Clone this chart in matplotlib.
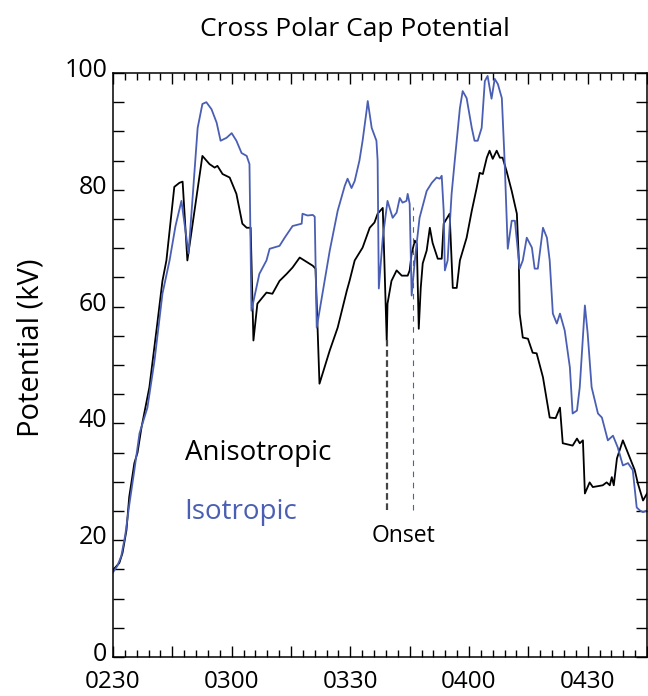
import matplotlib
matplotlib.use("Agg")
import matplotlib.pyplot as plt
import matplotlib.ticker as ticker
import matplotlib.transforms as mtransforms

plt.rcParams['font.family'] = ['Open Sans', 'DejaVu Sans']

# time in minutes after 02:30 UT, potential in kV
aniso_t = [0, 1.6, 2.4, 3.4, 4.1, 5.4, 6.2, 7.2, 9.2, 11.2, 12.5, 13.5, 15.5, 16.8, 17.6,
           18.8, 22.6, 24.4, 25.7, 26.4, 27.7, 29.5, 31.2, 32.7, 33.8, 34.8, 35.5, 36.5,
           38.8, 40.3, 42.1, 43.9, 45.4, 47.2, 50.5, 51.2, 52.2, 54.8, 56.8, 59.1, 59.8,
           61.1, 63.1, 64.9, 66.1, 66.9, 68.2, 68.9, 69.2, 69.4, 70.4, 71.7, 73.0, 74.5,
           75.0, 75.5, 76.3, 76.8, 77.3, 77.8, 78.3, 79.3, 80.1, 80.8, 82.1, 83.1, 83.6,
           85.1, 85.9, 86.9, 87.7, 89.4, 90.7, 91.9, 92.7, 93.5, 94.5, 95.2, 96.0, 97.0,
           97.8, 98.5, 99.5, 100.8, 102.1, 102.6, 102.8, 103.6, 104.9, 106.1, 107.1, 108.7,
           110.4, 111.9, 113.0, 113.7, 116.2, 117.3, 118.0, 118.8, 119.3, 120.5, 121.3,
           123.8, 124.8, 125.6, 126.1, 126.6, 127.4, 128.9, 130.2, 131.9, 132.7, 134.0, 135.0]
aniso_v = [14.9, 16.1, 17.8, 21.7, 27.4, 33.2, 35.0, 39.3, 46.2, 57.1, 64.4, 67.9, 80.5, 81.2, 81.4,
           67.9, 85.8, 84.4, 83.8, 84.1, 82.7, 82.1, 79.3, 74.2, 73.5, 73.5, 54.2, 60.5,
           62.4, 62.2, 64.4, 65.6, 66.7, 68.4, 67.0, 66.5, 46.8, 52.5, 56.4, 62.7, 64.4,
           67.9, 70.1, 73.5, 74.4, 75.9, 76.9, 61.0, 54.2, 60.5, 64.4, 66.2, 65.3, 65.3,
           66.2, 69.1, 71.3, 70.8, 56.2, 63.2, 67.4, 69.6, 73.5, 70.9, 68.2, 68.2, 74.2,
           75.9, 63.2, 63.2, 67.9, 71.8, 76.4, 80.2, 82.9, 82.7, 85.5, 86.7, 85.3, 86.7,
           85.5, 85.5, 83.2, 79.8, 75.9, 67.9, 58.8, 54.7, 54.5, 52.1, 52.0, 47.9,
           41.0, 40.9, 42.7, 36.6, 36.2, 37.4, 36.6, 37.1, 28.0, 29.9, 29.1,
           29.4, 29.9, 29.4, 30.8, 29.4, 34.0, 37.1, 34.9, 32.0, 29.7, 26.8, 28.0]

iso_t = [0, 1.1, 2.1, 3.1, 4.1, 5.4, 6.7, 8.7, 10.5, 12.5, 14.3, 15.8, 17.3, 19.1, 21.4,
         22.6, 23.6, 24.9, 26.2, 27.2, 28.7, 30.0, 31.2, 32.5, 33.8, 34.5, 35.0, 37.0,
         38.8, 39.6, 42.1, 43.4, 45.4, 47.7, 47.9, 49.2, 50.5, 51.0, 51.5, 53.5, 54.8,
         56.8, 58.6, 59.3, 60.3, 61.1, 62.3, 63.1, 64.1, 64.4, 65.4, 66.6, 66.9, 67.2,
         68.2, 69.4, 70.7, 71.7, 72.5, 73.2, 74.2, 74.5, 75.0, 75.5, 76.3, 77.5, 79.3,
         80.6, 81.8, 82.6, 83.1, 83.6, 83.9, 84.6, 85.6, 86.4, 87.7, 88.4, 89.4, 90.7,
         91.4, 92.2, 93.2, 94.0, 94.7, 95.7, 96.5, 97.3, 98.3, 99.0, 99.8, 100.8, 101.6,
         102.1, 102.8, 103.6, 104.6, 105.9, 106.6, 107.4, 108.7, 109.7, 110.4, 111.2,
         112.2, 113.0, 114.2, 115.5, 116.2, 117.3, 118.0, 119.3, 120.0, 121.0, 122.6,
         123.6, 125.1, 126.4, 127.6, 128.9, 130.2, 131.4, 132.4, 133.2, 134.0, 135.0]
iso_v = [14.5, 15.6, 17.3, 20.9, 26.0, 32.0, 38.3, 42.7, 50.8, 62.2, 67.9, 73.8, 78.1, 69.1, 90.6,
         94.7, 95.0, 93.8, 91.5, 88.4, 88.9, 89.7, 88.4, 86.3, 85.8, 84.4, 59.3, 65.6,
         67.9, 69.9, 70.4, 71.8, 73.8, 74.2, 75.9, 75.6, 75.7, 75.4, 56.4, 64.4, 69.6,
         76.4, 80.7, 81.9, 80.3, 81.5, 85.0, 88.4, 93.5, 95.2, 90.6, 88.4, 85.0, 63.1,
         71.8, 78.1, 75.2, 76.1, 78.6, 77.8, 78.1, 79.3, 77.6, 61.9, 67.9, 75.2, 79.8,
         81.2, 82.1, 81.9, 82.4, 76.4, 66.2, 67.9, 79.3, 85.0, 94.0, 96.9, 95.7, 90.6,
         88.4, 88.4, 90.6, 98.6, 99.5, 95.6, 99.0, 98.1, 95.7, 85.0, 69.9, 74.7, 74.7,
         71.3, 66.5, 67.9, 71.8, 70.1, 66.5, 66.5, 73.5, 71.8, 67.9, 58.8,
         57.1, 58.8, 55.9, 49.6, 41.7, 42.2, 46.2, 60.2, 55.4, 46.2, 41.7,
         41.0, 37.1, 37.9, 35.9, 32.8, 33.2, 32.0, 25.6, 25.1, 24.8, 25.1]

# substorm onset markers (time, top of line)
onset_aniso = (69.2, 54.2)
onset_iso = (75.8, 77.0)
onset_bottom = 25.1

tick_hhmm = ['0230', '0300', '0330', '0400', '0430']

BLUE = '#4a5fb3'

fig = plt.figure(figsize=(6.48, 6.96), dpi=100)
ax = fig.add_axes([113/648, 1-657/696, 534/648, 584/696])

ax.plot(aniso_t, aniso_v, color='black', lw=1.3)
ax.plot(iso_t, iso_v, color=BLUE, lw=1.3)

ax.plot([onset_aniso[0]]*2, [onset_bottom, onset_aniso[1]], color='#444444',
        lw=1.6, ls=(0, (3, 1.6)))
ax.plot([onset_iso[0]]*2, [onset_bottom, onset_iso[1]], color=BLUE,
        lw=0.8, ls=(0, (5, 5)))

ax.text(18.1, 35, 'Anisotropic', fontsize=20, color='black', va='center', ha='left')
ax.text(18.1, 24.8, 'Isotropic', fontsize=20, color=BLUE, va='center', ha='left')
ax.text(73.5, 20.7, 'Onset', fontsize=16.5, color='black', va='center', ha='center')

ax.set_xlim(0, 135)
ax.set_ylim(0, 100)

ax.xaxis.set_major_locator(ticker.MultipleLocator(15))
ax.xaxis.set_minor_locator(ticker.MultipleLocator(3))
ax.xaxis.set_major_formatter(ticker.FuncFormatter(
    lambda x, p: tick_hhmm[int(round(x / 30))] if round(x) % 30 == 0 and 0 <= round(x / 30) < len(tick_hhmm) else ''))
ax.yaxis.set_major_locator(ticker.MultipleLocator(20))
ax.yaxis.set_minor_locator(ticker.MultipleLocator(5))

ax.tick_params(which='both', direction='in', top=True, right=True, width=1.0)
ax.tick_params(which='major', length=8)
ax.tick_params(axis='x', which='minor', length=5)
ax.tick_params(axis='y', which='minor', length=8)
ax.tick_params(axis='x', pad=9, labelsize=17.5)
ax.tick_params(axis='y', pad=4, labelsize=18)
for s in ax.spines.values():
    s.set_linewidth(1.1)

# nudge the y labels up a little so "0" clears "0230"
shift = mtransforms.ScaledTranslation(0, 4/72, fig.dpi_scale_trans)
for lab in ax.get_yticklabels():
    lab.set_transform(lab.get_transform() + shift)

ax.set_ylabel('Potential (kV)', fontsize=21)
ax.yaxis.set_label_coords(-0.127, 0.53)
fig.text(355/648, 1-30/696, 'Cross Polar Cap Potential', fontsize=19, ha='center', va='center')

fig.savefig('out.png', dpi=100)
